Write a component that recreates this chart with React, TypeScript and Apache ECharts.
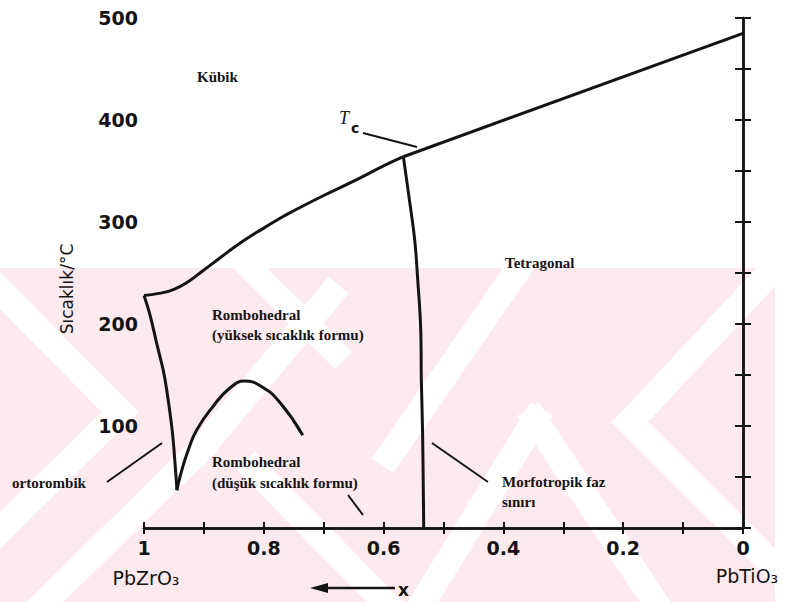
import React, { useEffect, useRef } from "react";
import * as echarts from "echarts";

// x = mole fraction of PbZrO3 (axis runs 1 -> 0), T in °C
const xTickLabels = ["0", "0.2", "0.4", "0.6", "0.8", "1"];
const yTickLabels = ["", "100", "200", "300", "400", "500"];

// Curie temperature line (cubic boundary), curved part
const tcCurveLeft: number[][] = [
  [1.0, 228], [0.975, 230], [0.95, 234], [0.925, 242], [0.9, 253],
  [0.875, 264], [0.85, 275], [0.825, 285], [0.8, 294], [0.775, 303],
  [0.75, 311], [0.7, 326], [0.65, 340], [0.6, 355], [0.567, 364],
];
// Curie temperature line, straight part to PbTiO3
const tcCurveRight: number[][] = [[0.567, 364], [0.0, 485]];
// orthorhombic / rhombohedral boundary
const orthoBoundary: number[][] = [
  [1.0, 228], [0.99, 209], [0.978, 179], [0.968, 155], [0.962, 135],
  [0.953, 96], [0.948, 62], [0.945, 37],
];
// high-T / low-T rhombohedral boundary (dome)
const rhomboDome: number[][] = [
  [0.945, 37], [0.94, 50], [0.927, 75], [0.912, 96], [0.885, 119],
  [0.857, 137], [0.832, 144], [0.802, 138], [0.773, 123], [0.735, 91],
];
// morphotropic phase boundary
const mpbLine: number[][] = [
  [0.567, 364], [0.557, 322], [0.548, 282], [0.543, 243], [0.538, 194],
  [0.537, 145], [0.535, 96], [0.533, 0],
];

const INK = "#141414";
const PINK = "#fdeaee";

function band(x1: number, y1: number, x2: number, y2: number, w: number) {
  const dx = x2 - x1, dy = y2 - y1;
  const L = Math.hypot(dx, dy);
  const ux = dx / L, uy = dy / L;
  const e = w / 2;
  const ax = x1 - ux * e, ay = y1 - uy * e, bx = x2 + ux * e, by = y2 + uy * e;
  const nx = -uy * w / 2, ny = ux * w / 2;
  return {
    type: "polygon",
    z: -100,
    silent: true,
    shape: { points: [[ax + nx, ay + ny], [bx + nx, by + ny], [bx - nx, by - ny], [ax - nx, ay - ny]] },
    style: { fill: "#ffffff" },
  };
}

function txt(text: string, x: number, y: number, font: string, align = "left", extra: any = {}) {
  return {
    type: "text",
    z: 100,
    x,
    y,
    ...extra,
    style: {
      text,
      font,
      fill: INK,
      align,
      textAlign: align,
      verticalAlign: "middle",
      textVerticalAlign: "middle",
    },
  };
}

function seg(x1: number, y1: number, x2: number, y2: number, w = 2) {
  return {
    type: "line",
    z: 100,
    shape: { x1, y1, x2, y2 },
    style: { stroke: INK, lineWidth: w },
  };
}

const SERIF = "bold 15px 'Liberation Serif', 'Times New Roman', serif";
const SANS_AX = "DejaVu Sans, sans-serif";

export default function App() {
  const ref = useRef<HTMLDivElement>(null);
  useEffect(() => {
    document.body.style.margin = "0";
    if (!ref.current) return;
    const chart = echarts.init(ref.current, undefined, { renderer: "svg" });

    const lineSeries = (data: number[][], smooth: boolean | number) => ({
      type: "line",
      data,
      smooth,
      symbol: "none",
      lineStyle: { color: INK, width: 3 },
      z: 5,
    });

    const axisLine = { show: true, lineStyle: { color: INK, width: 2.5 } };

    const xFormatter = (v: number) => {
      const r = Math.round(v * 10);
      return r % 2 === 0 ? xTickLabels[r / 2] : "";
    };
    const yFormatter = (v: number) => {
      const r = Math.round(v);
      return r % 100 === 0 ? yTickLabels[r / 100] : "";
    };

    const watermark = [
      { type: "rect", z: -101, silent: true, shape: { x: 0, y: 268, width: 775, height: 334 }, style: { fill: PINK } },
      band(-10, 280, 120, 412, 26),
      band(120, 412, -10, 540, 26),
      band(45, 602, 200, 450, 26),
      band(200, 450, 330, 295, 26),
      band(250, 268, 335, 352, 24),
      band(255, 470, 385, 602, 26),
      band(390, 455, 523, 262, 26),
      band(423, 602, 535, 420, 26),
      band(535, 420, 655, 602, 26),
      band(630, 422, 780, 262, 26),
      band(630, 422, 790, 582, 26),
      { type: "rect", z: -99, silent: true, shape: { x: 775, y: 260, width: 20, height: 350 }, style: { fill: "#ffffff" } },
    ];

    const annotations = [
      txt("Kübik", 197, 77, SERIF),
      txt("Tetragonal", 505, 263, SERIF),
      txt("Rombohedral", 212, 315, SERIF),
      txt("(yüksek sıcaklık formu)", 212, 335, SERIF),
      txt("Rombohedral", 212, 462, SERIF),
      txt("(düşük sıcaklık formu)", 212, 483, SERIF),
      txt("ortorombik", 12, 483, SERIF),
      txt("Morfotropik faz", 502, 482, SERIF),
      txt("sınırı", 502, 502, SERIF),
      txt("T", 339, 118, "italic 18px 'Liberation Serif', serif"),
      txt("c", 351, 128, "bold 14px 'DejaVu Sans', sans-serif"),
      seg(363, 133, 417, 147),
      seg(107, 482, 162, 443),
      seg(348, 495, 363, 515),
      seg(432, 443, 488, 482),
      txt("Sıcaklık/°C", 67, 289, "17px 'DejaVu Sans', sans-serif", "center", { rotation: Math.PI / 2 }),
      txt("PbZrO₃", 146, 578, "19px 'DejaVu Sans', sans-serif", "center"),
      txt("PbTiO₃", 747, 576, "19px 'DejaVu Sans', sans-serif", "center"),
      seg(320, 588, 395, 588, 2.5),
      {
        type: "polygon",
        z: 100,
        shape: { points: [[310, 588], [328, 583], [328, 593]] },
        style: { fill: INK },
      },
      txt("x", 398, 590, "bold 17px 'DejaVu Sans', sans-serif"),
    ];

    chart.setOption({
      animation: false,
      backgroundColor: "#ffffff",
      grid: { left: 144, right: 45, top: 18, bottom: 74, containLabel: false },
      xAxis: [
        {
          type: "value", min: 0, max: 1, interval: 0.1, inverse: true, position: "bottom",
          axisLine,
          axisTick: { show: true, inside: true, length: 6, lineStyle: { color: INK, width: 2 } },
          axisLabel: {
            formatter: xFormatter, margin: 10, fontSize: 19, fontWeight: "bold",
            fontFamily: SANS_AX, color: INK, showMinLabel: true, showMaxLabel: true,
          },
          splitLine: { show: false },
        },
        {
          type: "value", min: 0, max: 1, interval: 0.1, inverse: true, position: "top",
          axisLine,
          axisTick: { show: true, inside: true, length: 6, lineStyle: { color: INK, width: 2 } },
          axisLabel: { show: false },
          splitLine: { show: false },
        },
      ],
      yAxis: [
        {
          type: "value", min: 0, max: 500, interval: 50, position: "left",
          axisLine,
          axisTick: { show: true, inside: true, length: 8, lineStyle: { color: INK, width: 2 } },
          axisLabel: {
            formatter: yFormatter, margin: 6, fontSize: 19, fontWeight: "bold",
            fontFamily: SANS_AX, color: INK, showMinLabel: true, showMaxLabel: true,
          },
          splitLine: { show: false },
        },
        {
          type: "value", min: 0, max: 500, interval: 50, position: "right",
          axisLine,
          axisTick: { show: true, inside: true, length: 8, lineStyle: { color: INK, width: 2 } },
          axisLabel: { show: false },
          splitLine: { show: false },
        },
      ],
      series: [
        lineSeries(tcCurveLeft, 0.5),
        lineSeries(tcCurveRight, false),
        lineSeries(orthoBoundary, 0.4),
        lineSeries(rhomboDome, 0.5),
        lineSeries(mpbLine, 0.4),
      ],
      graphic: { elements: [...watermark, ...annotations] },
    });

    return () => chart.dispose();
  }, []);

  return <div ref={ref} style={{ width: 788, height: 602 }} />;
}
